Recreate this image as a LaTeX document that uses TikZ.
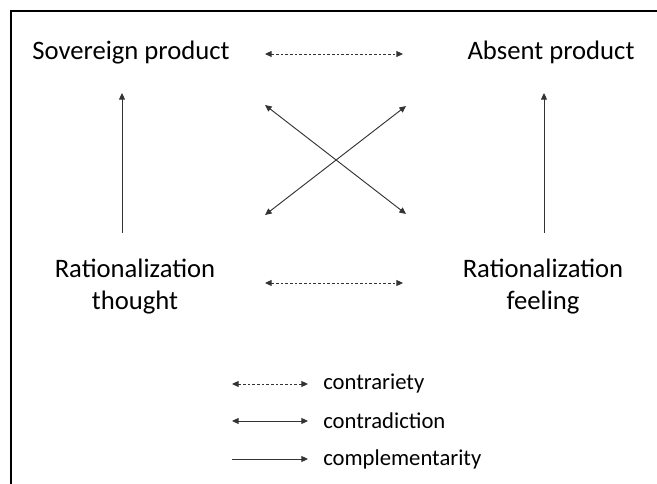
\documentclass[tikz,border=0pt]{standalone}
\usepackage{fontspec}
\setmainfont{Carlito}
\usetikzlibrary{arrows.meta}
\tikzset{
    tip/.tip={Triangle[length=5pt,width=4.5pt]},
    rel/.style={draw=black!80, line width=0.7pt},
    contrary/.style={rel, {tip}-{tip}, dash pattern=on 2pt off 1.5pt},
    contradict/.style={rel, {tip}-{tip}},
    complement/.style={rel, -{tip}},
    term/.style={font=\fontsize{20}{24}\selectfont, align=center, inner sep=0pt},
    legendtext/.style={font=\fontsize{17}{20}\selectfont, anchor=west, inner sep=0pt}
}
\begin{document}
\begin{tikzpicture}[x=0.75pt, y=-0.75pt]
        \useasboundingbox (0, 0) rectangle (657, 484);
        \draw[line width=1.5pt] (11, 484) -- (11, 11) -- (657, 11);
        % the four terms
        \node[term, anchor=base] (sov) at (131, 60) {Sovereign product};
        \node[term, anchor=base] (abs) at (551, 60) {Absent product};
        \node[term] (thought) at (135, 287) {Rationalization\\thought};
        \node[term] (feeling) at (543, 287) {Rationalization\\feeling};
        % arrow ends
        \coordinate (tl) at (265, 54);
        \coordinate (tr) at (403, 54);
        \coordinate (bl) at (265, 283);
        \coordinate (br) at (403, 283);
        \coordinate (lt) at (122, 93);
        \coordinate (lb) at (122, 233);
        \coordinate (rt) at (544, 93);
        \coordinate (rb) at (544, 233);
        \coordinate (xa) at (265, 105);
        \coordinate (xb) at (406, 214);
        \coordinate (xc) at (265, 215);
        \coordinate (xd) at (406, 106);
        \draw[contrary] (tl) -- (tr);
        \draw[contrary] (bl) -- (br);
        \draw[complement] (lb) -- (lt);
        \draw[complement] (rb) -- (rt);
        \draw[contradict] (xa) -- (xb);
        \draw[contradict] (xc) -- (xd);
        % legend
        \coordinate (k1a) at (232, 384);
        \coordinate (k1b) at (308, 384);
        \coordinate (k2a) at (232, 421);
        \coordinate (k2b) at (308, 421);
        \coordinate (k3a) at (232, 459);
        \coordinate (k3b) at (308, 459);
        \draw[contrary] (k1a) -- (k1b);
        \draw[contradict] (k2a) -- (k2b);
        \draw[complement] (k3a) -- (k3b);
        \node[legendtext] (l1) at (323, 384) {contrariety};
        \node[legendtext] (l2) at (323, 421) {contradiction};
        \node[legendtext] (l3) at (323, 459) {complementarity};
\end{tikzpicture}
\end{document}
